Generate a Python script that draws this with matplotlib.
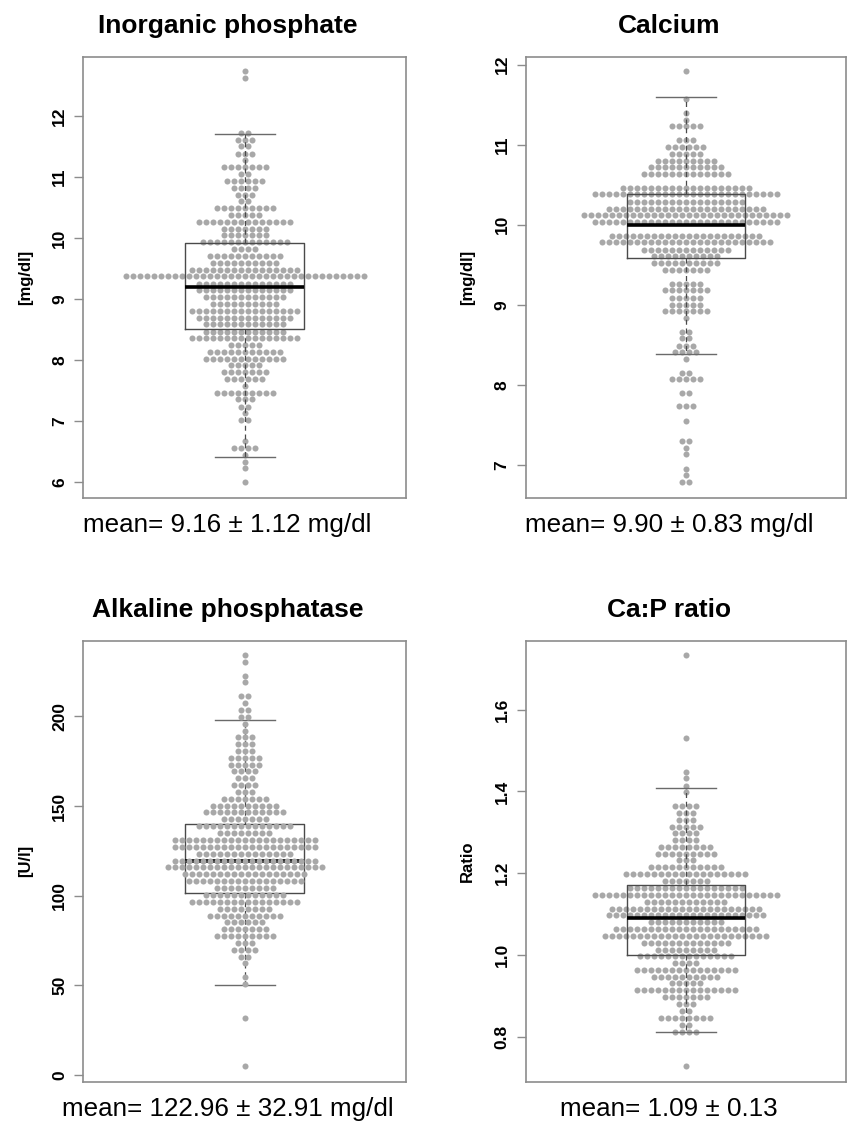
import matplotlib.pyplot as plt
import numpy as np

plt.rcParams['font.family'] = ['Liberation Sans', 'DejaVu Sans']

titles = ["Inorganic phosphate", "Calcium", "Alkaline phosphatase", "Ca:P ratio"]
ylabels = ["[mg/dl]", "[mg/dl]", "[U/l]", "Ratio"]
mean_texts = ["mean= 9.16 \u00b1 1.12 mg/dl", "mean= 9.90 \u00b1 0.83 mg/dl",
              "mean= 122.96 \u00b1 32.91 mg/dl", "mean= 1.09 \u00b1 0.13"]

# beeswarm rows: row value and number of dots in that row
phos_rows = [12.73, 12.62, 11.72, 11.61, 11.50, 11.38, 11.27, 11.16, 11.04, 10.93,
             10.82, 10.71, 10.60, 10.49, 10.38, 10.26, 10.15, 10.04, 9.93, 9.81,
             9.70, 9.59, 9.48, 9.37, 9.25, 9.14, 9.03, 8.92, 8.80, 8.69,
             8.58, 8.46, 8.36, 8.24, 8.13, 8.02, 7.91, 7.80, 7.68, 7.57,
             7.46, 7.35, 7.23, 7.13, 7.01, 6.67, 6.56, 6.44, 6.33, 6.22, 6.00]
phos_counts = [1, 1, 2, 3, 2, 3, 1, 7, 2, 6,
               4, 3, 2, 9, 5, 14, 7, 7, 13, 4,
               11, 10, 16, 35, 14, 14, 12, 10, 16, 14,
               12, 12, 16, 5, 11, 12, 5, 7, 6, 1,
               9, 3, 2, 1, 2, 1, 4, 1, 1, 1, 1]

ca_rows = [11.92, 11.57, 11.40, 11.31, 11.23, 11.06, 10.97, 10.89, 10.80, 10.72,
           10.63, 10.46, 10.38, 10.29, 10.20, 10.12, 10.03, 9.86, 9.78, 9.69,
           9.61, 9.52, 9.43, 9.26, 9.18, 9.09, 9.00, 8.92, 8.83, 8.66,
           8.58, 8.49, 8.41, 8.32, 8.15, 8.07, 7.90, 7.73, 7.55, 7.30,
           7.21, 7.13, 6.95, 6.87, 6.78]
ca_counts = [1, 1, 1, 1, 5, 3, 6, 5, 9, 11,
             13, 19, 27, 17, 23, 30, 27, 22, 25, 13,
             10, 10, 7, 5, 7, 5, 5, 7, 1, 2,
             2, 3, 4, 1, 2, 5, 2, 3, 1, 2,
             1, 1, 1, 1, 2]

alp_rows = [234.1, 230.4, 222.6, 218.9, 211.3, 207.4, 203.5, 199.7, 195.8, 191.9,
            188.2, 184.3, 180.6, 176.9, 173.0, 169.3, 165.4, 161.6, 157.7, 154.0,
            150.1, 146.4, 142.5, 138.8, 134.9, 131.2, 127.3, 123.4, 119.5, 115.8,
            111.9, 108.1, 104.2, 100.3, 96.4, 92.7, 88.8, 85.1, 81.2, 77.5,
            73.6, 69.8, 65.9, 62.3, 54.6, 50.7, 31.8, 5.0]
alp_counts = [1, 1, 1, 1, 2, 1, 2, 2, 1, 1,
              3, 3, 3, 5, 5, 4, 3, 4, 3, 7,
              10, 12, 7, 14, 8, 21, 21, 14, 21, 23,
              18, 17, 9, 12, 16, 8, 11, 6, 7, 9,
              3, 4, 2, 1, 1, 1, 1, 1]

ratio_rows = [1.734, 1.532, 1.448, 1.432, 1.414, 1.398, 1.365, 1.348, 1.331, 1.314,
              1.298, 1.281, 1.264, 1.247, 1.231, 1.215, 1.198, 1.181, 1.164, 1.147,
              1.130, 1.113, 1.097, 1.080, 1.064, 1.047, 1.030, 1.013, 0.997, 0.980,
              0.963, 0.946, 0.930, 0.913, 0.896, 0.879, 0.863, 0.846, 0.829, 0.812,
              0.728]
ratio_counts = [1, 1, 1, 1, 1, 1, 4, 3, 3, 5,
                4, 4, 8, 9, 3, 11, 18, 7, 17, 27,
                12, 22, 23, 11, 21, 24, 13, 9, 14, 4,
                15, 10, 5, 15, 7, 3, 2, 8, 2, 4,
                1]

# box statistics: lower whisker, Q1, median, Q3, upper whisker
phos_box = [6.40, 8.51, 9.20, 9.91, 11.70]
ca_box = [8.39, 9.59, 10.00, 10.38, 11.60]
alp_box = [50.0, 101.3, 119.5, 140.0, 198.0]
ratio_box = [0.81, 1.00, 1.089, 1.171, 1.408]

phos_ticks = [6, 7, 8, 9, 10, 11, 12]
ca_ticks = [7, 8, 9, 10, 11, 12]
alp_ticks = [0, 50, 100, 150, 200]
ratio_ticks = [0.8, 1.0, 1.2, 1.4, 1.6]
ratio_ticklabels = ["0.8", "1.0", "1.2", "1.4", "1.6"]

panels = [
    (phos_rows, phos_counts, phos_box, phos_ticks, [str(t) for t in phos_ticks], (5.73, 12.97)),
    (ca_rows, ca_counts, ca_box, ca_ticks, [str(t) for t in ca_ticks], (6.58, 12.10)),
    (alp_rows, alp_counts, alp_box, alp_ticks, [str(t) for t in alp_ticks], (-3.7, 242.1)),
    (ratio_rows, ratio_counts, ratio_box, ratio_ticks, ratio_ticklabels, (0.688, 1.769)),
]

W, H = 847, 1121
fig = plt.figure(figsize=(W / 100, H / 100), dpi=100)

# axes boxes in pixels: left, top, right, bottom
boxes_px = [(83.3, 56.7, 405.7, 498.3), (525.7, 56.7, 846.0, 498.3),
            (83.3, 640.7, 405.7, 1081.7), (525.7, 640.7, 846.0, 1082.3)]
dots_on_top = [False, False, True, False]

dot_col = '#A8A8A8'
frame_col = '#8C8C8C'
box_col = '#4A4A4A'

for i, (rows, counts, bx, ticks, tlabels, ylim) in enumerate(panels):
    l, t, r, b = boxes_px[i]
    ax = fig.add_axes([l / W, 1 - b / H, (r - l) / W, (b - t) / H])
    ax.set_xlim(-1, 1)
    ax.set_ylim(*ylim)
    half = (r - l) / 2
    dx = 7.0 / half

    xs, ys = [], []
    for y, n in zip(rows, counts):
        offs = (np.arange(n) - (n - 1) / 2) * dx
        xs.extend(offs)
        ys.extend([y] * n)
    dz = 5 if dots_on_top[i] else 2
    ax.scatter(xs, ys, s=19, c=dot_col, linewidths=0, zorder=dz)

    stats = dict(whislo=bx[0], q1=bx[1], med=bx[2], q3=bx[3], whishi=bx[4], fliers=[])
    art = ax.bxp([stats], positions=[0], widths=[2 * 59.3 / half],
                 capwidths=[2 * 30 / half], showfliers=False, patch_artist=False,
                 boxprops=dict(color=box_col, linewidth=1.0),
                 medianprops=dict(color='black', linewidth=2.6),
                 whiskerprops=dict(color=box_col, linewidth=0.9, linestyle=(0, (4, 3))),
                 capprops=dict(color='#6A6A6A', linewidth=1.0))
    for key in art:
        for a in art[key]:
            a.set_zorder(3)

    for sp in ax.spines.values():
        sp.set_color(frame_col)
        sp.set_linewidth(1.2)
    ax.set_xticks([])
    ax.set_yticks(ticks)
    ax.set_yticklabels(tlabels, rotation=90, va='center', fontweight='bold', fontsize=12.5)
    ax.tick_params(axis='y', length=6.5, width=1, color=frame_col, pad=5)

    ax.text(-58 / (r - l), 0.5, ylabels[i], transform=ax.transAxes, rotation=90,
            ha='center', va='center', fontweight='bold', fontsize=12)

    cx = (l + r) / 2 - 17
    fig.text(cx / W, 1 - (t - 24) / H, titles[i], ha='center', va='baseline',
             fontweight='bold', fontsize=19)
    fig.text(cx / W, 1 - (b + 34) / H, mean_texts[i], ha='center', va='baseline',
             fontsize=18.7)

fig.savefig('out.png', dpi=100)
